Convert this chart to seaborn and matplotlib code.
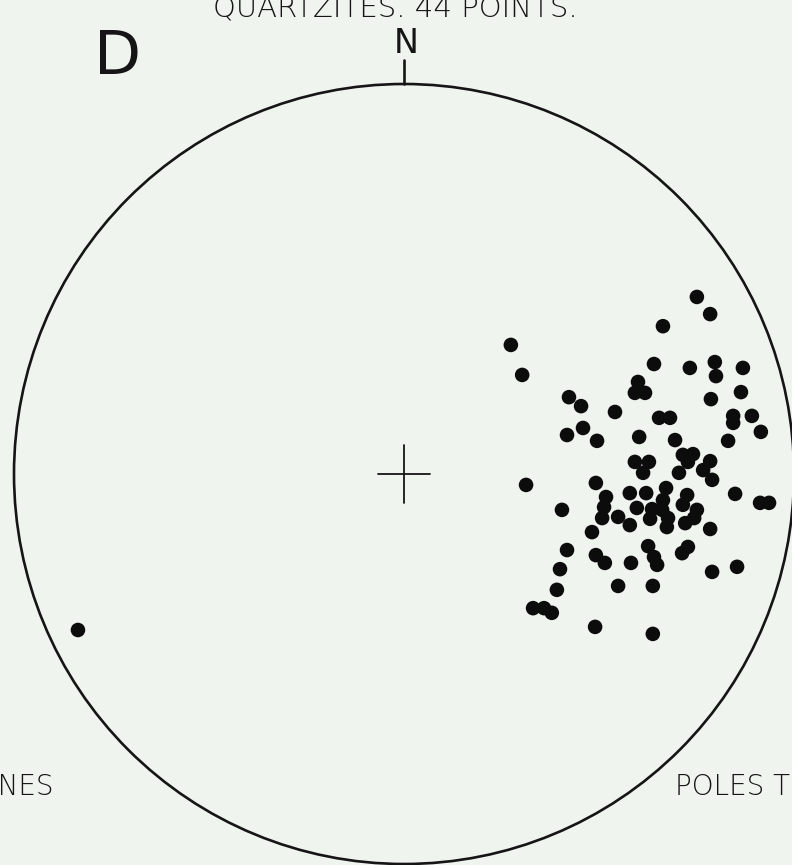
import numpy as np
import pandas as pd
import matplotlib
matplotlib.use('Agg')
import matplotlib.pyplot as plt
from matplotlib.patches import Circle
import seaborn as sns

# 극점 좌표 (네트 반지름 = 100, x = 동쪽, y = 북쪽)
east = [75.1, 78.5, 66.4, 27.4, 30.3, 64.1, 73.3, 79.7, 80.0, 86.9,
        60.0, 59.2, 61.8, 42.3, 45.4, 54.1, 86.4, 78.7, 65.4, 68.2,
        84.4, 84.4, 89.2, 91.5, 45.9, 41.8, 49.5, 60.3, 69.5, 83.1,
        59.2, 62.8, 61.3, 71.5, 74.1, 72.8, 78.5, 76.7, 79.0, 70.5,
        49.2, 31.3, 40.5, 51.8, 51.3, 50.8, 54.9, 57.9, 62.1, 59.7,
        57.9, 63.6, 67.2, 66.4, 66.2, 67.7, 63.1, 67.4, 72.6, 71.5,
        75.1, 74.4, 72.1, 78.5, 84.9, 91.3, 93.6, 48.2,
        41.8, 40.0, 39.2, 33.1, 35.9, 37.9, 49.0, 63.8, 49.2, 51.5,
        58.2, 62.6, 64.1, 64.9, 54.9, 63.8, 71.3, 72.8, 79.0, 85.4,
        -83.6]
north = [45.4, 41.0, 37.9, 33.1, 25.4, 28.2, 27.2, 28.7, 25.1, 27.2,
         23.6, 20.8, 20.8, 19.7, 17.4, 15.9, 21.0, 19.2, 14.4, 14.4,
         14.9, 13.1, 14.9, 10.8, 11.8, 10.0, 8.5, 9.5, 8.7, 8.5,
         3.1, 3.1, 0.3, 4.9, 5.1, 3.1, 3.3, 1.0, -1.5, 0.3,
         -2.3, -2.8, -9.2, -5.9, -8.5, -11.3, -11.0, -4.9, -4.9, -8.7,
         -13.1, -9.0, -3.6, -6.7, -9.2, -11.3, -11.5, -13.6, -5.4, -7.9,
         -9.2, -11.3, -12.6, -14.1, -5.1, -7.4, -7.4, -14.9,
         -19.5, -24.4, -29.7, -34.4, -34.4, -35.6, -39.2, -41.0, -20.8, -22.8,
         -22.8, -18.5, -21.3, -23.3, -28.7, -28.7, -20.3, -18.7, -25.1, -23.8,
         -40.0]

title = 'QUARTZITES. 44 POINTS.'
panel = 'D'
left_label = 'BEDDING PLANES'
right_label = 'POLES TO BEDDING PLANES'

df = pd.DataFrame({'east': east, 'north': north})

sns.set_style('white')
plt.rcParams['font.family'] = ['DejaVu Sans']
bg = '#eff4ee'
ink = '#151515'

fig = plt.figure(figsize=(7.92, 8.65), dpi=100, facecolor=bg)
ax = fig.add_axes([0, 0, 1, 1])
ax.set_facecolor(bg)

# 네트 중심 (404, 474) px, 반지름 390 px
px = 3.9
ax.set_xlim(-404 / px, (792 - 404) / px)
ax.set_ylim((474 - 865) / px, 474 / px)
ax.set_aspect('equal')
ax.axis('off')

ax.add_patch(Circle((0, 0), 100, fill=False, ec=ink, lw=1.9))
ax.plot([0, 0], [100, 106.2], color=ink, lw=1.9)
ax.plot([-6.7, 6.7], [0, 0], color=ink, lw=1.3)
ax.plot([0, 0], [-7.5, 7.5], color=ink, lw=1.3)

sns.scatterplot(data=df, x='east', y='north', ax=ax, s=110, color='#0c0c0c',
                edgecolor='none', legend=False)

ax.text(0.5, 110.5, 'N', ha='center', va='center', fontsize=24, color=ink)
fig.text(0.148, 0.934, panel, ha='center', va='center', fontsize=44, color=ink)
fig.text(0.499, 0.9815, title, ha='center', va='baseline', fontsize=21,
         color=ink, fontweight='light')
fig.text(0.067, 0.081, left_label, ha='right', va='baseline', fontsize=20,
         color=ink, fontweight='light')
fig.text(0.852, 0.081, right_label, ha='left', va='baseline', fontsize=20,
         color=ink, fontweight='light')

fig.savefig('out.png', dpi=100, facecolor=bg)
